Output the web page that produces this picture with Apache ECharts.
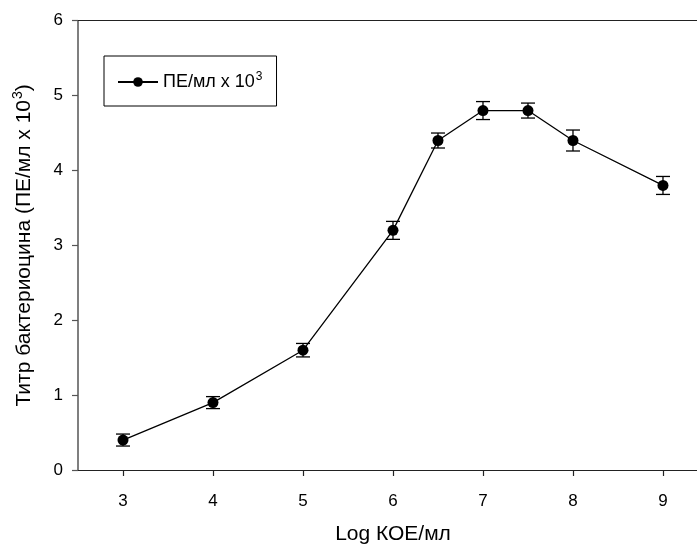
<!DOCTYPE html>
<html>
<head>
<meta charset="utf-8">
<script src="https://cdn.jsdelivr.net/npm/echarts@6/dist/echarts.min.js"></script>
<style>
html,body{margin:0;padding:0;background:#fff;}
#c{width:697px;height:550px;}
</style>
</head>
<body>
<div id="c"></div>
<script>
const xValues = [3, 4, 5, 6, 6.5, 7, 7.5, 8, 9];
const yValues = [0.4, 0.9, 1.6, 3.2, 4.4, 4.8, 4.8, 4.4, 3.8];
const yErrors = [0.08, 0.08, 0.09, 0.12, 0.1, 0.12, 0.1, 0.14, 0.12];
const xTicks = [3, 4, 5, 6, 7, 8, 9];
const yTicks = [0, 1, 2, 3, 4, 5, 6];
const seriesName = 'ПЕ/мл x 10³';
const xTitle = 'Log КОЕ/мл';
const yTitleMain = 'Титр бактериоцина (ПЕ/мл x 10';
const yTitleSup = '3';
const yTitleEnd = ')';

const lineData = xValues.map((x, i) => [x, yValues[i]]);
const errData = xValues.map((x, i) => [x, yValues[i] - yErrors[i], yValues[i] + yErrors[i]]);

const FONT = '"Liberation Sans", Arial, sans-serif';
const chart = echarts.init(document.getElementById('c'), null, {renderer: 'canvas'});
chart.setOption({
  animation: false,
  backgroundColor: '#fff',
  grid: {left: 78, right: 0, top: 20.7, bottom: 76, containLabel: false},
  legend: {
    data: [seriesName],
    left: 104, top: 56,
    orient: 'vertical',
    borderColor: '#000', borderWidth: 1,
    padding: [15, 14, 15, 13],
    itemWidth: 40, itemHeight: 12,
    formatter: function () { return '{a|ПЕ/мл x 10}{s|3}'; },
    textStyle: {
      fontFamily: FONT, fontSize: 18, color: '#000',
      rich: {
        a: {fontFamily: FONT, fontSize: 18, color: '#000'},
        s: {fontFamily: FONT, fontSize: 12, color: '#000', verticalAlign: 'top', padding: [0, 0, 10, 1]}
      }
    }
  },
  xAxis: [{
    type: 'value', min: 2.5, max: 9.378,
    position: 'bottom',
    name: xTitle, nameLocation: 'middle', nameGap: 54,
    nameTextStyle: {fontFamily: FONT, fontSize: 21, color: '#000', padding: [0, 0, 0, 11]},
    axisLine: {show: true, onZero: false, lineStyle: {color: '#222', width: 1.2}},
    axisTick: {show: true, inside: false, length: 6, customValues: xTicks, lineStyle: {color: '#222', width: 1.2}},
    axisLabel: {customValues: xTicks, margin: 23, fontFamily: FONT, fontSize: 17, color: '#000'},
    splitLine: {show: false}
  }, {
    type: 'value', min: 2.5, max: 9.378,
    position: 'top',
    axisLine: {show: true, onZero: false, lineStyle: {color: '#222', width: 1.2}},
    axisTick: {show: false}, axisLabel: {show: false}, splitLine: {show: false}
  }],
  yAxis: {
    type: 'value', min: 0, max: 6, interval: 1,
    name: '{a|' + yTitleMain + '}{s|' + yTitleSup + '}{a|' + yTitleEnd + '}',
    nameLocation: 'middle', nameGap: 41, nameRotate: 90,
    nameTextStyle: {
      fontFamily: FONT, fontSize: 21, color: '#000',
      rich: {
        a: {fontFamily: FONT, fontSize: 21, color: '#000'},
        s: {fontFamily: FONT, fontSize: 14, color: '#000', verticalAlign: 'top', padding: [0, 0, 12, 1]}
      }
    },
    axisLine: {show: true, onZero: false, lineStyle: {color: '#555', width: 1.5}},
    axisTick: {show: true, inside: false, length: 6, lineStyle: {color: '#555', width: 1.2}},
    axisLabel: {margin: 15, fontFamily: FONT, fontSize: 17, color: '#000', formatter: v => yTicks.includes(v) ? String(v) : ''},
    splitLine: {show: false}
  },
  series: [{
    name: seriesName,
    type: 'line',
    data: lineData,
    symbol: 'circle', symbolSize: 11,
    itemStyle: {color: '#000'},
    lineStyle: {color: '#000', width: 1.3},
    z: 3
  }, {
    name: 'err',
    type: 'custom',
    data: errData,
    z: 4,
    renderItem: function (params, api) {
      const x = api.value(0);
      const lo = api.coord([x, api.value(1)]);
      const hi = api.coord([x, api.value(2)]);
      const hw = 7;
      const st = {stroke: '#000', lineWidth: 1.3};
      return {type: 'group', children: [
        {type: 'line', shape: {x1: lo[0], y1: lo[1], x2: hi[0], y2: hi[1]}, style: st},
        {type: 'line', shape: {x1: lo[0] - hw, y1: lo[1], x2: lo[0] + hw, y2: lo[1]}, style: st},
        {type: 'line', shape: {x1: hi[0] - hw, y1: hi[1], x2: hi[0] + hw, y2: hi[1]}, style: st}
      ]};
    }
  }]
});
</script>
</body>
</html>
